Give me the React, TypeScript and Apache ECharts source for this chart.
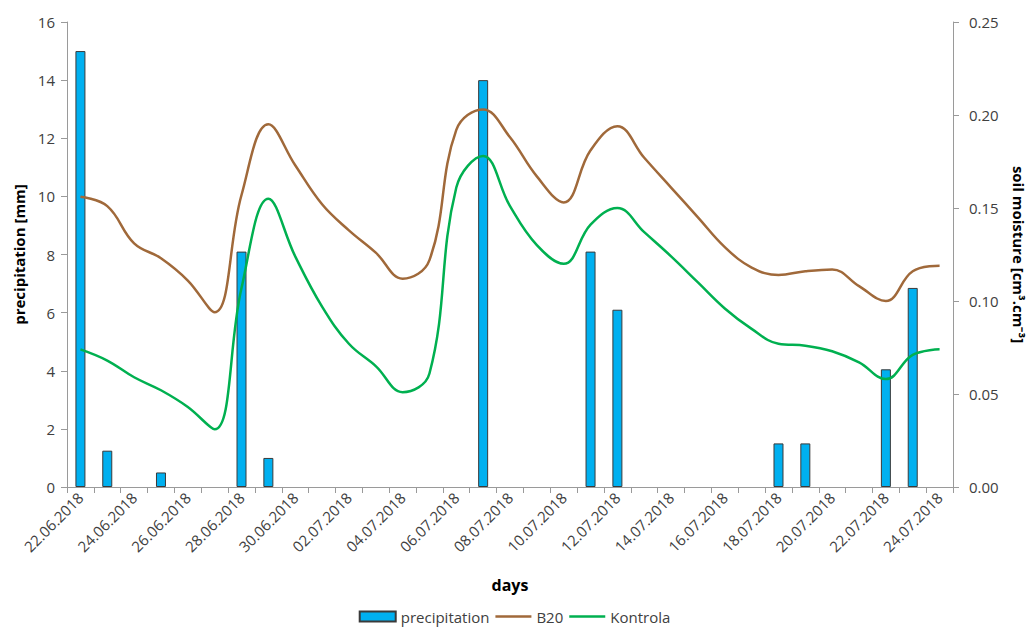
import React, { useEffect, useRef } from "react";
import * as echarts from "echarts";

const days = [
  "22.06.2018", "23.06.2018", "24.06.2018", "25.06.2018", "26.06.2018", "27.06.2018", "28.06.2018",
  "29.06.2018", "30.06.2018", "01.07.2018", "02.07.2018", "03.07.2018", "04.07.2018", "05.07.2018",
  "06.07.2018", "07.07.2018", "08.07.2018", "09.07.2018", "10.07.2018", "11.07.2018", "12.07.2018",
  "13.07.2018", "14.07.2018", "15.07.2018", "16.07.2018", "17.07.2018", "18.07.2018", "19.07.2018",
  "20.07.2018", "21.07.2018", "22.07.2018", "23.07.2018", "24.07.2018",
];

const precipitation = [
  15, 1.25, 0, 0.5, 0, 0, 8.1, 1.0, 0, 0, 0, 0, 0, 0, 0, 14, 0, 0, 0, 8.1, 6.1,
  0, 0, 0, 0, 0, 1.5, 1.5, 0, 0, 4.05, 6.85, 0,
];

const b20 = [
  0.156, 0.151, 0.131, 0.123, 0.111, 0.094, 0.157, 0.195, 0.173, 0.152, 0.138, 0.126, 0.112,
  0.122, 0.192, 0.203, 0.188, 0.167, 0.153, 0.181, 0.194, 0.177, 0.161, 0.145, 0.129, 0.118,
  0.114, 0.116, 0.117, 0.108, 0.1, 0.116, 0.119,
];

const kontrola = [
  0.074, 0.068, 0.059, 0.052, 0.043, 0.031, 0.107, 0.155, 0.124, 0.097, 0.077, 0.065, 0.051,
  0.061, 0.161, 0.178, 0.151, 0.13, 0.12, 0.141, 0.15, 0.137, 0.124, 0.11, 0.096, 0.085,
  0.077, 0.076, 0.073, 0.067, 0.058, 0.071, 0.074,
];

const FONT = "Open Sans";
const TXT = "#404040";
const AXIS = "#9a9a9a";
const BROWN = "#A0693A";
const GREEN = "#00B050";
const LINE_ICON = "path://M0,0 M0,10 M0,3.75 L36,3.75 L36,6.25 L0,6.25 Z";

export default function App() {
  const ref = useRef<HTMLDivElement>(null);
  useEffect(() => {
    if (!ref.current) return;
    const chart = echarts.init(ref.current, null, { renderer: "svg" });
    chart.setOption({
      animation: false,
      textStyle: { fontFamily: FONT },
      grid: { left: 67, right: 76, top: 22, bottom: 144, outerBoundsMode: "none", containLabel: false },
      legend: {
        bottom: 2,
        left: "center",
        itemWidth: 36,
        itemHeight: 10,
        itemGap: 6,
        textStyle: { fontFamily: FONT, fontSize: 15, color: TXT },
        data: [
          { name: "precipitation", icon: "rect" },
          { name: "B20", icon: LINE_ICON },
          { name: "Kontrola", icon: LINE_ICON },
        ],
      },
      xAxis: {
        type: "category",
        data: days,
        boundaryGap: true,
        name: "days",
        nameLocation: "middle",
        nameGap: 90,
        nameTextStyle: { fontFamily: FONT, fontSize: 16, fontWeight: "bold", color: "#000" },
        axisLine: { lineStyle: { color: AXIS, width: 1 } },
        axisTick: { show: true, interval: 0, length: 6, lineStyle: { color: AXIS } },
        axisLabel: {
          interval: 1,
          rotate: 45,
          fontSize: 15,
          color: TXT,
          fontFamily: FONT,
          margin: 8,
        },
        splitLine: { show: false },
      },
      yAxis: [
        {
          type: "value",
          min: 0,
          max: 16,
          interval: 2,
          name: "precipitation [mm]",
          nameLocation: "middle",
          nameGap: 40,
          nameTextStyle: { fontFamily: FONT, fontSize: 15, fontWeight: "bold", color: "#000" },
          axisLine: { show: true, lineStyle: { color: AXIS } },
          axisTick: { show: true, length: 6, lineStyle: { color: AXIS } },
          axisLabel: { fontSize: 15, color: TXT, fontFamily: FONT, margin: 12 },
          splitLine: { show: false },
        },
        {
          type: "value",
          min: 0,
          max: 0.25,
          interval: 0.05,
          position: "right",
          name: "soil moisture [cm³.cm⁻³]",
          nameLocation: "middle",
          nameRotate: -90,
          nameGap: 58,
          nameTextStyle: { fontFamily: FONT, fontSize: 15, fontWeight: "bold", color: "#000" },
          axisLine: { show: true, lineStyle: { color: AXIS } },
          axisTick: { show: true, length: 6, lineStyle: { color: AXIS } },
          axisLabel: {
            fontSize: 15,
            color: TXT,
            fontFamily: FONT,
            margin: 16,
            formatter: (v: number) => v.toFixed(2),
          },
          splitLine: { show: false },
        },
      ],
      series: [
        {
          name: "precipitation",
          type: "bar",
          yAxisIndex: 0,
          data: precipitation.map((v) => (v === 0 ? "-" : v)),
          barWidth: 10,
          itemStyle: { color: "#00B0F0", borderColor: "#3a3a3a", borderWidth: 1 },
          z: 1,
        },
        {
          name: "B20",
          type: "line",
          yAxisIndex: 1,
          data: b20,
          smooth: 0.4,
          symbol: "none",
          lineStyle: { color: BROWN, width: 2.5 },
          itemStyle: { color: BROWN },
          z: 3,
        },
        {
          name: "Kontrola",
          type: "line",
          yAxisIndex: 1,
          data: kontrola,
          smooth: 0.4,
          symbol: "none",
          lineStyle: { color: GREEN, width: 2.5 },
          itemStyle: { color: GREEN },
          z: 3,
        },
      ],
    });
    return () => chart.dispose();
  }, []);
  return <div ref={ref} style={{ width: 1029, height: 631, position: "absolute", left: 0, top: 0 }} />;
}
